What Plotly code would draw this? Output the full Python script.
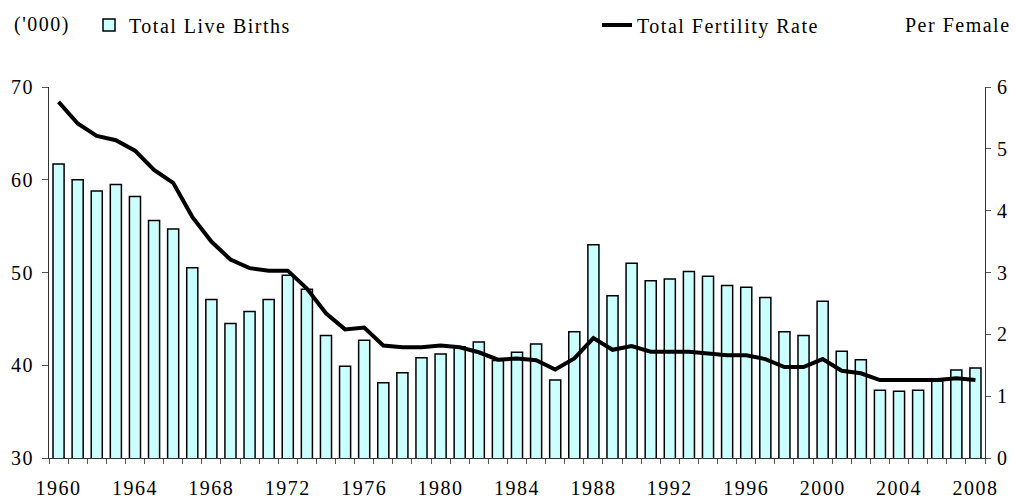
import plotly.graph_objects as go

years = list(range(1960, 2009))

live_births = [
    61.7, 60.0, 58.8, 59.5, 58.2, 55.6, 54.7, 50.5, 47.1, 44.5,
    45.8, 47.1, 49.7, 48.2, 43.2, 39.9, 42.7, 38.1, 39.2, 40.8,
    41.2, 42.0, 42.5, 40.5, 41.4, 42.3, 38.4, 43.6, 53.0, 47.5,
    51.0, 49.1, 49.3, 50.1, 49.6, 48.6, 48.4, 47.3, 43.6, 43.2,
    46.9, 41.5, 40.6, 37.3, 37.2, 37.3, 38.3, 39.5, 39.7,
]

tfr = [
    5.76, 5.41, 5.21, 5.14, 4.97, 4.66, 4.45, 3.90, 3.50, 3.21,
    3.07, 3.03, 3.03, 2.74, 2.34, 2.08, 2.11, 1.82, 1.79, 1.79,
    1.82, 1.79, 1.71, 1.59, 1.61, 1.58, 1.43, 1.61, 1.94, 1.75,
    1.81, 1.72, 1.72, 1.72, 1.69, 1.66, 1.66, 1.60, 1.47, 1.47,
    1.60, 1.41, 1.37, 1.26, 1.26, 1.26, 1.26, 1.29, 1.26,
]

tick_years = list(range(1960, 2009, 4))
left_ticks = [30, 40, 50, 60, 70]
right_ticks = [0, 1, 2, 3, 4, 5, 6]

FONT = "Liberation Serif, Times New Roman, serif"
fs = 20
LS = "letter-spacing:1.5px"


def sp(t):
    return f'<span style="{LS}">{t}</span>'


fig = go.Figure()
fig.add_trace(go.Bar(
    x=years, y=live_births, name=sp("Total Live Births"),
    marker=dict(color="#CCFFFF", line=dict(color="black", width=1.5)),
    legend="legend", yaxis="y", base=0,
))
fig.add_trace(go.Scatter(
    x=years, y=tfr, name=sp("Total Fertility Rate"), mode="lines",
    line=dict(color="black", width=4), yaxis="y2", legend="legend2",
))

fig.update_layout(
    width=1016, height=500,
    margin=dict(l=49, r=31, t=87, b=42),
    paper_bgcolor="white", plot_bgcolor="white",
    font=dict(family=FONT, size=fs, color="black"),
    bargap=0.42,
    showlegend=True,
    xaxis=dict(
        type="linear", range=[1959.5, 2008.5], automargin=False,
        tickvals=tick_years, ticktext=[sp(y) for y in tick_years],
        ticks="outside", ticklen=5,
        tickcolor="rgba(0,0,0,0)", ticklabelstandoff=7,
        tickfont=dict(color="black"),
        showline=True, linecolor="#333", linewidth=1,
        showgrid=False, zeroline=False,
        minor=dict(tick0=1959.5, dtick=1, ticks="outside", ticklen=5,
                   tickcolor="#555", showgrid=False),
    ),
    yaxis=dict(
        range=[30, 70], automargin=False,
        tickvals=left_ticks, ticktext=[sp(v) for v in left_ticks],
        tickfont=dict(color="black"),
        ticks="outside", ticklen=6, tickcolor="#555",
        showline=True, linecolor="#333", linewidth=1,
        showgrid=False, zeroline=False, ticklabelstandoff=4,
    ),
    yaxis2=dict(
        range=[0, 6], overlaying="y", side="right", automargin=False,
        tickvals=right_ticks, ticktext=[sp(v) for v in right_ticks],
        tickfont=dict(color="black"),
        ticks="outside", ticklen=5, tickcolor="#555",
        showline=True, linecolor="#333", linewidth=1,
        showgrid=False, zeroline=False, ticklabelstandoff=2,
    ),
    legend=dict(
        xref="container", yref="container", x=89 / 1016, y=1 - 25 / 500,
        xanchor="left", yanchor="middle", orientation="h",
        bgcolor="rgba(0,0,0,0)", font=dict(family=FONT, size=fs),
    ),
    legend2=dict(
        xref="container", yref="container", x=597 / 1016, y=1 - 25 / 500,
        xanchor="left", yanchor="middle", orientation="h",
        bgcolor="rgba(0,0,0,0)", font=dict(family=FONT, size=fs),
    ),
    annotations=[
        dict(text=sp("('000)"), xref="paper", yref="paper",
             x=-37 / 936, y=1 + 62 / 371, xanchor="left", yanchor="middle",
             showarrow=False, font=dict(family=FONT, size=fs)),
        dict(text=sp("Per Female"), xref="paper", yref="paper",
             x=1 + 28 / 936, y=1 + 62 / 371, xanchor="right", yanchor="middle",
             showarrow=False, font=dict(family=FONT, size=fs)),
    ],
)

fig.write_html("out.html", config={"displayModeBar": False},
               post_script="document.body.style.margin='0';")
